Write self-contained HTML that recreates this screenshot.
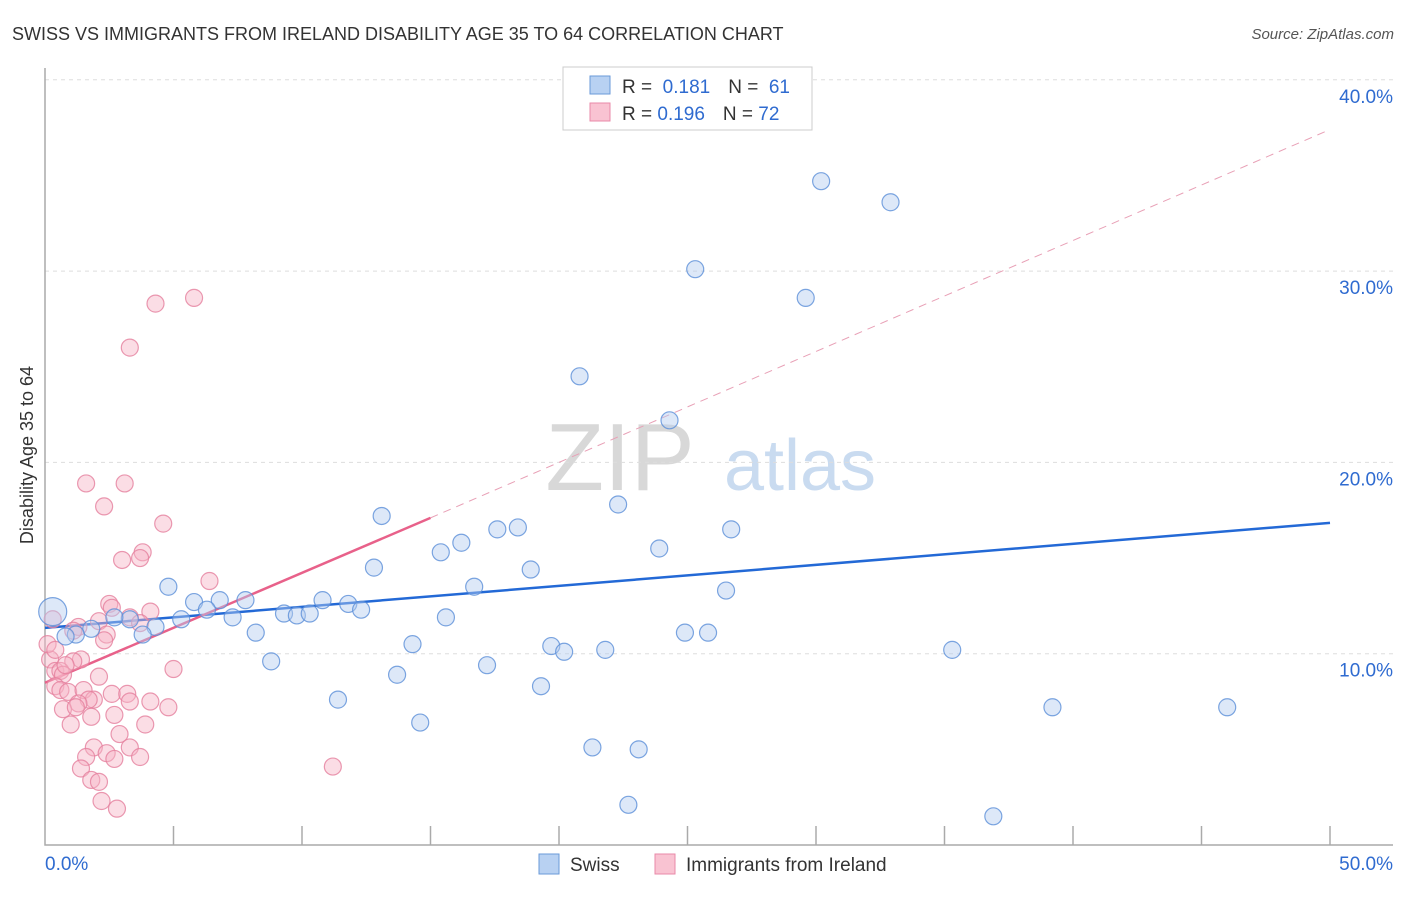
<!DOCTYPE html>
<html><head><meta charset="utf-8"><style>
body{margin:0;background:#fff;font-family:"Liberation Sans",sans-serif;}
svg text{font-family:"Liberation Sans",sans-serif;}
</style></head><body>
<svg width="1406" height="892">
<text x="12" y="40" font-size="18" fill="#333">SWISS VS IMMIGRANTS FROM IRELAND DISABILITY AGE 35 TO 64 CORRELATION CHART</text>
<text x="1394" y="39" font-size="15" fill="#555" font-style="italic" text-anchor="end">Source: ZipAtlas.com</text>
<text x="620" y="490" font-size="96" fill="#d8d8d8" font-family="Liberation Serif" text-anchor="middle">ZIP</text>
<text x="800" y="490" font-size="72" fill="#c9dbf0" text-anchor="middle">atlas</text>
<text transform="translate(33,455) rotate(-90)" font-size="18" fill="#333" text-anchor="middle">Disability Age 35 to 64</text>
<g id="grid"></g><g id="axes"></g><g id="trends"></g><g id="pts"></g>
<g>
<rect x="563" y="67" width="249" height="63" fill="#fff" stroke="#ccc"/>
<rect x="590" y="76" width="20" height="18" fill="#b8d1f2" stroke="#6a9ad8"/>
<rect x="590" y="103" width="20" height="18" fill="#f9c3d2" stroke="#e98aa8"/>
<text x="622" y="93" font-size="19" fill="#333">R = <tspan fill="#2f6bd0">&#160;0.181</tspan><tspan dx="18">N = </tspan><tspan fill="#2f6bd0">&#160;61</tspan></text>
<text x="622" y="120" font-size="19" fill="#333">R = <tspan fill="#2f6bd0">0.196</tspan><tspan dx="18">N = </tspan><tspan fill="#2f6bd0">72</tspan></text>
</g>
<g>
<rect x="539" y="854" width="20" height="20" fill="#b8d1f2" stroke="#6a9ad8"/>
<text x="570" y="871" font-size="19" fill="#333">Swiss</text>
<rect x="655" y="854" width="20" height="20" fill="#f9c3d2" stroke="#e98aa8"/>
<text x="686" y="871" font-size="19" fill="#333">Immigrants from Ireland</text>
</g>
</svg>
<script>
const yTicks=[10,20,30,40];
const yTickLabels=["10.0%","20.0%","30.0%","40.0%"];
const xTicks=[0,5,10,15,20,25,30,35,40,45,50];
const blueX=[30.2,32.9,25.3,29.6,20.8,24.3,22.3,26.7,13.1,17.6,18.4,16.2,15.4,23.9,12.8,18.9,16.7,4.8,26.5,7.8,6.8,5.8,10.8,11.8,12.3,6.3,7.3,9.3,9.8,10.3,15.6,5.3,4.3,3.3,2.7,1.8,1.2,3.8,8.2,24.9,25.8,14.3,19.7,20.2,21.8,35.3,8.8,17.2,13.7,19.3,11.4,39.2,46.0,14.6,21.3,23.1,22.7,36.9,0.8];
const blueY=[34.7,33.6,30.1,28.6,24.5,22.2,17.8,16.5,17.2,16.5,16.6,15.8,15.3,15.5,14.5,14.4,13.5,13.5,13.3,12.8,12.8,12.7,12.8,12.6,12.3,12.3,11.9,12.1,12.0,12.1,11.9,11.8,11.4,11.8,11.9,11.3,11.0,11.0,11.1,11.1,11.1,10.5,10.4,10.1,10.2,10.2,9.6,9.4,8.9,8.3,7.6,7.2,7.2,6.4,5.1,5.0,2.1,1.5,10.9];
const pinkX=[5.8,4.3,3.3,1.6,3.1,2.3,4.6,3.8,3.7,3.0,6.4,2.5,2.6,4.1,3.3,3.7,2.1,1.3,2.4,2.3,1.1,0.3,0.2,1.4,1.1,0.4,0.6,0.7,5.0,2.1,0.4,0.6,0.9,1.5,2.6,3.2,1.9,1.7,1.3,3.3,4.1,4.8,0.7,1.2,1.8,2.7,1.0,3.9,2.9,1.9,2.4,3.3,1.6,2.7,3.7,1.4,11.2,1.8,2.1,2.2,2.8,0.8,0.1,0.4];
const pinkY=[28.6,28.3,26.0,18.9,18.9,17.7,16.8,15.3,15.0,14.9,13.8,12.6,12.4,12.2,11.9,11.6,11.7,11.4,11.0,10.7,11.2,11.8,9.7,9.7,9.6,9.1,9.1,8.9,9.2,8.8,8.3,8.1,8.0,8.1,7.9,7.9,7.6,7.6,7.4,7.5,7.5,7.2,7.1,7.2,6.7,6.8,6.3,6.3,5.8,5.1,4.8,5.1,4.6,4.5,4.6,4.0,4.1,3.4,3.3,2.3,1.9,9.4,10.5,10.2];
const bigBlue=[[0.3,12.2]];
const blueTrend=[[0,11.35],[50,16.84]];
const pinkTrend=[[0,8.48],[15,17.1],[50,37.4]];
const NS="http://www.w3.org/2000/svg";
const sx=v=>45+v*25.7, sy=v=>845-v*19.13;
function mk(tag,parent,attrs){const e=document.createElementNS(NS,tag);for(const k in attrs)e.setAttribute(k,attrs[k]);document.getElementById(parent).appendChild(e);return e;}
yTicks.forEach((t,i)=>{
 const g=mk('line','grid',{x1:45,x2:1393,y1:sy(t),y2:sy(t),stroke:'#ddd','stroke-dasharray':'4,4'});
 
 
 const l=mk('text','grid',{x:1393,y:sy(t)+23,'font-size':19,fill:'#2f6bd0','text-anchor':'end'});l.textContent=yTickLabels[i];
 
 
});
const ax=mk('path','axes',{d:`M45 68 V845 H1393`,stroke:'#aaa',fill:'none','stroke-width':1.5});


xTicks.slice(1).forEach(t=>{const k=mk('line','axes',{x1:sx(t),x2:sx(t),y1:826,y2:845,stroke:'#aaa','stroke-width':1.5});
 
 });
const x0=mk('text','axes',{x:45,y:870,'font-size':19,fill:'#2f6bd0'});x0.textContent='0.0%';


const x1=mk('text','axes',{x:1393,y:870,'font-size':19,fill:'#2f6bd0','text-anchor':'end'});x1.textContent='50.0%';


function dot(x,y,r,fill,stroke,name){const c=mk('circle','pts',{cx:sx(x),cy:sy(y),r:r,fill:fill,'fill-opacity':0.45,stroke:stroke,'stroke-width':1.2,'stroke-opacity':0.8});
 
 }
pinkX.forEach((x,i)=>dot(x,pinkY[i],8.5,'#f7b3c6','#e57f9e','ireland-point'));
blueX.forEach((x,i)=>dot(x,blueY[i],8.5,'#b3cdf0','#5b8fd8','swiss-point'));
bigBlue.forEach(p=>dot(p[0],p[1],14,'#b3cdf0','#5b8fd8','swiss-point-large'));
const bt=mk('line','trends',{x1:sx(blueTrend[0][0]),y1:sy(blueTrend[0][1]),x2:sx(blueTrend[1][0]),y2:sy(blueTrend[1][1]),stroke:'#2369d6','stroke-width':2.5});


const pt=mk('line','trends',{x1:sx(pinkTrend[0][0]),y1:sy(pinkTrend[0][1]),x2:sx(pinkTrend[1][0]),y2:sy(pinkTrend[1][1]),stroke:'#e8618a','stroke-width':2.5});


const pd=mk('line','trends',{x1:sx(pinkTrend[1][0]),y1:sy(pinkTrend[1][1]),x2:sx(pinkTrend[2][0]),y2:sy(pinkTrend[2][1]),stroke:'#e8a0b6','stroke-width':1,'stroke-dasharray':'8,6'});


</script>
</body></html>
